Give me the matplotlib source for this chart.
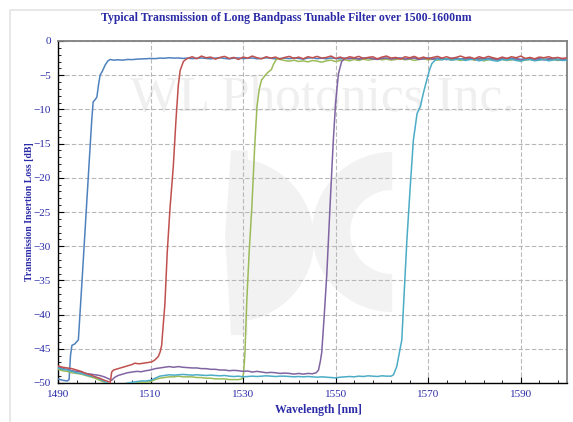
import matplotlib.pyplot as plt
import matplotlib.patches as mpatches
import numpy as np

# wavelength [nm] / loss [dB]
blue_x = [1490, 1491, 1492, 1492.4, 1492.7, 1493.0, 1493.6, 1494.4, 1495.2, 1496.0, 1496.8,
          1497.3, 1497.6, 1498.0, 1498.4, 1498.8, 1499.1, 1499.6, 1500.2, 1500.8, 1501.3] + list(range(1502, 1601))
blue_y = [-49.4, -49.6, -49.7, -49.5, -46.0, -44.5, -44.3, -43.7, -35.0, -26.0, -17.0,
          -11.5, -8.9, -8.6, -8.2, -6.2, -5.0, -4.4, -3.5, -2.9, -2.7,
          -2.80, -2.75, -2.80, -2.70, -2.72, -2.66, -2.62, -2.60, -2.55, -2.58,
          -2.50, -2.52, -2.45, -2.50, -2.48, -2.55, -2.50, -2.58, -2.52, -2.48,
          -2.55, -2.60, -2.50, -2.45, -2.55, -2.62, -2.50, -2.47, -2.58, -2.52,
          -2.48, -2.60, -2.55, -2.45, -2.52, -2.62, -2.55, -2.50, -2.58, -2.48,
          -2.55, -2.65, -2.50, -2.45, -2.58, -2.52, -2.60, -2.48, -2.55, -2.62,
          -2.50, -2.55, -2.48, -2.60, -2.52, -2.45, -2.58, -2.62, -2.50, -2.55,
          -2.60, -2.48, -2.55, -2.65, -2.52, -2.50, -2.62, -2.55, -2.48, -2.58,
          -2.52, -2.60, -2.70, -2.55, -2.50, -2.62, -2.58, -2.48, -2.60, -2.55,
          -2.65, -2.52, -2.58, -2.70, -2.55, -2.62, -2.50, -2.58, -2.68, -2.60,
          -2.55, -2.65, -2.58, -2.72, -2.60, -2.55, -2.68, -2.62, -2.70]

red_x = list(range(1490, 1501)) + [1500.9, 1501.3, 1501.6, 1502, 1503, 1504, 1505, 1506, 1506.6, 1507.5,
                                   1508.5, 1509.5, 1510.3, 1511, 1511.7, 1512.1, 1512.4, 1512.8, 1513.1,
                                   1513.6, 1514.2, 1514.9, 1515.5, 1516.0, 1516.4, 1517.1, 1517.6] + list(range(1518, 1601))
red_y = [-47.5, -47.7, -47.8, -47.9, -48.1, -48.3, -48.6, -48.8, -49.1, -49.3, -49.6,
         -49.8, -49.9, -48.4, -48.1, -47.9, -47.7, -47.5, -47.3, -47.1, -47.2,
         -47.1, -47.0, -46.9, -46.6, -46.1, -45.4, -44.5, -41.0, -38.5,
         -31.0, -24.5, -18.5, -11.5, -6.5, -4.3, -3.0, -2.7,
         -2.55, -2.30, -2.60, -2.20, -2.45, -2.35, -2.65, -2.40, -2.25, -2.55,
         -2.40, -2.70, -2.35, -2.50, -2.20, -2.45, -2.60, -2.30, -2.50, -2.35,
         -2.65, -2.40, -2.25, -2.55, -2.35, -2.60, -2.30, -2.45, -2.25, -2.50,
         -2.40, -2.20, -2.55, -2.35, -2.60, -2.30, -2.45, -2.25, -2.55, -2.40,
         -2.30, -2.60, -2.35, -2.20, -2.50, -2.40, -2.65, -2.30, -2.45, -2.25,
         -2.55, -2.35, -2.60, -2.40, -2.25, -2.50, -2.30, -2.55, -2.40, -2.20,
         -2.45, -2.35, -2.60, -2.30, -2.50, -2.25, -2.45, -2.60, -2.35, -2.55,
         -2.30, -2.45, -2.20, -2.55, -2.40, -2.60, -2.35, -2.45, -2.30, -2.50,
         -2.40, -2.55, -2.45]

green_x = list(range(1490, 1530)) + [1529.8, 1530.1, 1530.4, 1530.8, 1531.3, 1531.9, 1532.5, 1533.0,
                                     1533.5, 1534.0, 1534.8, 1535.5, 1536.1, 1536.5, 1536.9, 1537.3] + list(range(1538, 1601))
green_y = [-48.0, -48.2, -48.3, -48.5, -48.6, -48.7, -48.9, -49.1, -49.3, -49.6,
           -49.9, -50.3, -50.4, -50.4, -50.3, -50.2, -50.1, -50.0, -49.9, -49.9,
           -49.8, -49.5, -49.3, -49.2, -49.1, -49.1, -49.0, -49.1, -49.1, -49.1,
           -49.2, -49.2, -49.3, -49.3, -49.4, -49.4, -49.4, -49.5, -49.5, -49.5,
           -49.4, -48.6, -45.7, -38.0, -31.0, -24.2, -15.5, -9.6,
           -7.0, -5.7, -5.0, -4.5, -4.2, -3.5, -3.0, -2.6,
           -2.70, -2.85, -2.95, -2.80, -3.00, -2.90, -3.05, -2.85, -2.95, -3.10,
           -2.90, -2.80, -3.00, -2.85, -2.75, -2.90, -2.70, -2.85, -2.65, -2.80,
           -2.70, -2.60, -2.75, -2.65, -2.80, -2.70, -2.60, -2.75, -2.65, -2.85,
           -2.70, -2.60, -2.75, -2.65, -2.80, -2.70, -2.60, -2.78, -2.68, -2.85,
           -2.70, -2.62, -2.80, -2.70, -2.90, -2.75, -2.65, -2.80, -2.70, -2.85,
           -2.75, -2.65, -2.90, -2.80, -2.70, -2.85, -2.75, -2.65, -2.80, -2.70,
           -2.85, -2.75, -2.80]

purple_x = list(range(1490, 1502)) + [1501.6, 1502.2] + list(range(1503, 1546)) + \
    [1545.8, 1546.3, 1546.7, 1547.0, 1547.5, 1548.1, 1548.8, 1549.5, 1550.0, 1550.6, 1551.3, 1551.9] + list(range(1552, 1601))
purple_y = [-47.6, -47.9, -48.0, -48.2, -48.3, -48.4, -48.6, -48.7, -48.8, -48.9, -49.1, -49.4,
            -49.6, -49.2,
            -48.9, -48.7, -48.5, -48.4, -48.3, -48.35, -48.2, -48.1, -47.9, -47.8,
            -47.7, -47.6, -47.7, -47.6, -47.7, -47.75, -47.8, -47.8, -47.9, -47.9,
            -48.0, -48.0, -48.1, -48.1, -48.2, -48.15, -48.2, -48.3, -48.25, -48.4,
            -48.3, -48.4, -48.5, -48.45, -48.5, -48.6, -48.55, -48.6, -48.7, -48.6,
            -48.7, -48.6, -48.65,
            -48.5, -48.1, -46.8, -45.5, -40.5, -34.0, -24.0, -14.5, -9.0, -4.8, -3.0, -2.6,
            -2.55, -2.60, -2.50, -2.65, -2.55, -2.45, -2.60, -2.70, -2.55, -2.50,
            -2.62, -2.55, -2.48, -2.65, -2.58, -2.50, -2.70, -2.60, -2.52, -2.65,
            -2.55, -2.62, -2.70, -2.58, -2.50, -2.65, -2.60, -2.55, -2.72, -2.60,
            -2.55, -2.68, -2.60, -2.75, -2.62, -2.55, -2.70, -2.60, -2.78, -2.65,
            -2.58, -2.70, -2.62, -2.75, -2.65, -2.60, -2.72, -2.68, -2.75]

cyan_x = list(range(1490, 1563)) + [1562.5, 1563.2, 1564.3, 1564.8, 1565.4, 1566.1, 1566.8, 1567.6,
                                    1568.3, 1569.0, 1569.7, 1570.3, 1570.8, 1571.5] + list(range(1572, 1601))
cyan_y = [-47.8, -48.0, -48.1, -48.3, -48.5, -48.6, -48.8, -49.0, -49.1, -49.4,
          -49.8, -50.1, -50.3, -50.3, -50.2, -50.0, -49.9, -49.8, -49.7, -49.7,
          -49.6, -49.3, -49.0, -48.9, -48.8, -48.85, -48.8, -48.75, -48.8, -48.85,
          -48.8, -48.85, -48.9, -48.85, -48.9, -48.95, -48.9, -49.0, -49.05, -49.0,
          -49.1, -49.05, -49.0, -49.05, -49.0, -48.95, -49.0, -49.05, -49.0, -49.0,
          -49.05, -49.1, -49.05, -49.1, -49.05, -49.1, -49.15, -49.1, -49.15, -49.2,
          -49.25, -49.15, -49.1, -49.05, -49.1, -49.0, -49.05, -48.95, -49.0, -49.05,
          -48.95, -49.0, -49.0,
          -48.8, -47.6, -43.7, -37.0, -29.1, -21.5, -14.5, -10.6,
          -9.6, -7.5, -5.7, -4.2, -3.3, -2.8,
          -2.65, -2.75, -2.60, -2.80, -2.70, -2.62, -2.85, -2.72, -2.65, -2.90,
          -2.75, -2.68, -2.85, -2.95, -2.70, -2.80, -2.65, -2.85, -2.95, -2.75,
          -2.70, -2.88, -2.80, -2.65, -2.90, -2.78, -2.70, -2.85, -2.80]

curves = [(blue_x, blue_y, '#4F81BD'), (green_x, green_y, '#9BBB59'), (purple_x, purple_y, '#8064A2'),
          (cyan_x, cyan_y, '#4BACC6'), (red_x, red_y, '#C0504D')]

xticks = [1490, 1510, 1530, 1550, 1570, 1590]
yticks = [0, -5, -10, -15, -20, -25, -30, -35, -40, -45, -50]

txt = '#2B2BA8'
serif = 'Liberation Serif'
logo_c = '#f2f2f2'

fig = plt.figure(figsize=(5.73, 4.22), dpi=100)
fig.patches.append(mpatches.Rectangle((10 / 573, -0.01), 1.0, 1 - 10 / 422 + 0.01, transform=fig.transFigure,
                                      fill=False, edgecolor='#e4e4e4', linewidth=1.2))
ax = fig.add_axes([58 / 573, 1 - 383 / 422, 509 / 573, 342 / 422])


def px_arc(cx, cy, r, a0, a1):
    # arc given in pixel units, returned in data units (x: 4.625 px/nm, y: 6.84 px/dB)
    t = np.radians(np.linspace(a0, a1, 60))
    return list(zip(1490 + (cx + r * np.cos(t) - 58) / 4.625, -(cy - r * np.sin(t) - 41) / 6.84))


# faint background logo
ax.text(0.52, 0.83, 'WL Photonics Inc.', transform=ax.transAxes, ha='center', va='center',
        fontsize=37, family=serif, color='#efefef', zorder=0)
d_shape = px_arc(232, 240, 82, -90, 90)
ax.add_patch(mpatches.Polygon(d_shape, closed=True, facecolor=logo_c, edgecolor='none', zorder=0))
ax.add_patch(mpatches.Polygon(px_arc(225, 235, 0, 0, 0) + [(1527.4, -16.0), (1531.0, -16.0), (1531.0, -43.0), (1527.4, -43.0)],
                              closed=True, facecolor=logo_c, edgecolor='none', zorder=0))
c_shape = px_arc(392, 232, 80, 90, 270) + px_arc(392, 232, 42, 270, 90)
ax.add_patch(mpatches.Polygon(c_shape, closed=True, facecolor=logo_c, edgecolor='none', zorder=0))

for xs, ys, c in curves:
    ax.plot(xs, ys, color=c, linewidth=1.1, zorder=3)

ax.set_xlim(1490, 1600)
ax.set_ylim(-50, 0)
ax.set_xticks(xticks)
ax.set_yticks(yticks)
ax.set_xticks(np.arange(1490, 1601, 4), minor=True)
ax.set_yticks(np.arange(-50, 1, 1), minor=True)
ax.grid(True, which='major', color='#b8b8b8', linestyle=(0, (4, 2)), linewidth=0.8, zorder=1)
ax.tick_params(which='both', direction='in', top=False, right=False, colors='black', labelcolor=txt)
ax.tick_params(which='major', length=4, labelsize=8, pad=5)
ax.tick_params(which='minor', length=2.5)
for lab in ax.get_xticklabels() + ax.get_yticklabels():
    lab.set_family(serif)

for s in ['left', 'bottom']:
    ax.spines[s].set_color('black')
    ax.spines[s].set_linewidth(1.0)
for s in ['top', 'right']:
    ax.spines[s].set_color('#808080')
    ax.spines[s].set_linewidth(1.3)

fig.text(0.5, 1 - 18 / 422, 'Typical Transmission of Long Bandpass Tunable Filter over 1500-1600nm',
         ha='center', va='center', fontsize=8.5, fontweight='bold', family=serif, color=txt)
fig.text(318 / 573, 1 - 410 / 422, 'Wavelength [nm]', ha='center', va='center',
         fontsize=8.5, fontweight='bold', family=serif, color=txt)
fig.text(30 / 573, 1 - 212 / 422, 'Transmission Insertion Loss [dB]', ha='center', va='center',
         rotation=90, fontsize=7, fontweight='bold', family=serif, color=txt)

fig.savefig('out.png', dpi=100)
